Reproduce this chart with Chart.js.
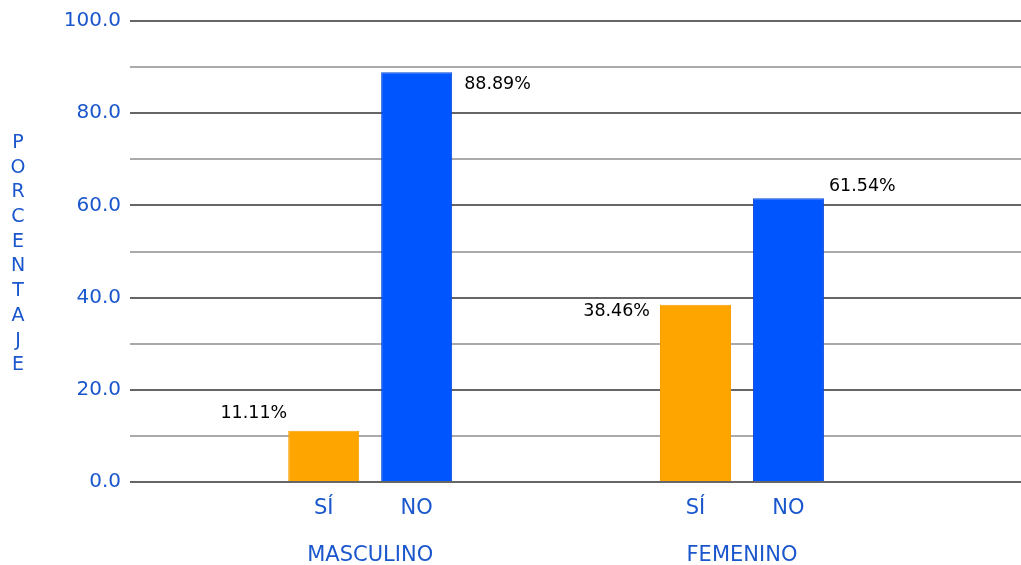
<!DOCTYPE html>
<html>
<head>
<meta charset="utf-8">
<script src="https://cdn.jsdelivr.net/npm/chart.js@4"></script>
<style>
  body { margin: 0; background: #fff; }
</style>
</head>
<body>
<canvas id="chart" width="1021" height="565"></canvas>
<script>
// data
const groups = ['MASCULINO', 'FEMENINO'];
const answers = ['SÍ', 'NO'];
const siValues = [11.11, 38.46];
const noValues = [88.89, 61.54];
const yTicks = [0, 20, 40, 60, 80, 100];

const BLUE_TEXT = '#1a56cc';
const FONT = 'DejaVu Sans, Verdana, sans-serif';

// slot offset of each answer inside a group (catPct 0.5, two bars)
const slotOffset = j => (j - 0.5) * 0.25;

// small nudges for the value labels: [gap from bar side, dy from bar top] in px
const labelNudge = [[[1, -17], [10, 7]], [[12, 12], [5, -12]]];

const valueLabels = {
  id: 'valueLabels',
  afterDatasetsDraw(chart) {
    const ctx = chart.ctx;
    ctx.save();
    ctx.font = '17.5px ' + FONT;
    ctx.fillStyle = '#000';
    ctx.textBaseline = 'middle';
    chart.data.datasets.forEach((ds, di) => {
      chart.getDatasetMeta(di).data.forEach((bar, i) => {
        const txt = ds.data[i].y.toFixed(2) + '%';
        const half = bar.width / 2;
        const [gap, dy] = labelNudge[di][i];
        if (di === 0) {
          ctx.textAlign = 'right';
          ctx.fillText(txt, bar.x - half - gap, bar.y + dy);
        } else {
          ctx.textAlign = 'left';
          ctx.fillText(txt, bar.x + half + gap, bar.y + dy);
        }
      });
    });
    ctx.restore();
  }
};

// y title drawn as stacked letters
const stackedTitle = {
  id: 'stackedTitle',
  afterDraw(chart) {
    const ctx = chart.ctx;
    const letters = 'PORCENTAJE'.split('');
    ctx.save();
    ctx.font = '19px ' + FONT;
    ctx.fillStyle = BLUE_TEXT;
    ctx.textAlign = 'center';
    ctx.textBaseline = 'middle';
    letters.forEach((ch, i) => ctx.fillText(ch, 18, 143 + i * 24.7));
    ctx.restore();
  }
};

const xMin = -0.646, xMax = 1.7505;

new Chart(document.getElementById('chart'), {
  type: 'bar',
  data: {
    datasets: [
      {
        label: answers[0],
        data: siValues.map((v, i) => ({ x: i, y: v })),
        backgroundColor: '#ffa500',
        borderColor: '#f5a000',
        borderWidth: 1
      },
      {
        label: answers[1],
        data: noValues.map((v, i) => ({ x: i, y: v })),
        backgroundColor: '#0055ff',
        borderColor: '#0a47d8',
        borderWidth: 1
      }
    ]
  },
  options: {
    responsive: false,
    animation: false,
    categoryPercentage: 0.5,
    barPercentage: 0.764,
    layout: { padding: { top: 20, left: 0, right: 0, bottom: 0 } },
    plugins: {
      legend: { display: false },
      tooltip: { enabled: false }
    },
    scales: {
      x: {
        type: 'linear',
        min: xMin,
        max: xMax,
        offset: false,
        weight: 2,
        afterBuildTicks: axis => { axis.ticks = groups.map((g, i) => ({ value: i })); },
        afterFit: axis => { axis.height = 36; },
        ticks: {
          callback: (v, i) => groups[i],
          color: BLUE_TEXT,
          font: { family: FONT, size: 21 },
          padding: 14,
          maxRotation: 0,
          autoSkip: false
        },
        grid: { display: false, drawTicks: false, offset: false },
        border: { display: false }
      },
      x2: {
        type: 'linear',
        position: 'bottom',
        min: xMin,
        max: xMax,
        offset: false,
        weight: 1,
        afterBuildTicks: axis => {
          const t = [];
          groups.forEach((g, i) => answers.forEach((a, j) => t.push({ value: i + slotOffset(j) })));
          axis.ticks = t;
        },
        afterFit: axis => { axis.height = 47; },
        ticks: {
          callback: (v, i) => answers[i % answers.length],
          color: BLUE_TEXT,
          font: { family: FONT, size: 21 },
          padding: 14,
          maxRotation: 0,
          autoSkip: false
        },
        grid: { display: false, drawTicks: false, offset: false },
        border: { display: false }
      },
      y: {
        min: 0,
        max: 100,
        afterFit: axis => { axis.width = 130; },
        ticks: {
          stepSize: 10,
          callback: v => yTicks.includes(v) ? v.toFixed(1) : '',
          color: BLUE_TEXT,
          font: { family: FONT, size: 20 },
          padding: 9
        },
        grid: {
          drawTicks: false,
          lineWidth: 2,
          color: c => yTicks.includes(c.tick.value) ? '#666666' : '#aaaaaa'
        },
        border: { display: false }
      }
    }
  },
  plugins: [valueLabels, stackedTitle]
});
</script>
</body>
</html>
